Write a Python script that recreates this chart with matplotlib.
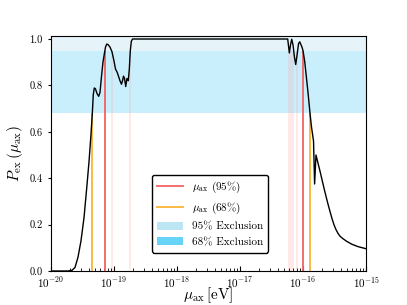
import numpy as np
import matplotlib
matplotlib.use("Agg")
import matplotlib.pyplot as plt
from matplotlib.lines import Line2D
from matplotlib.patches import Patch
from matplotlib.ticker import FixedLocator, NullFormatter

plt.rcParams.update({
    "font.family": "serif",
    "font.serif": ["cmr10", "DejaVu Serif"],
    "mathtext.fontset": "cm",
    "axes.formatter.use_mathtext": True,
    "axes.unicode_minus": False,
})

# log10(mu_ax / eV) and exclusion probability
log_mu = [-20.0, -19.730, -19.667, -19.619, -19.571, -19.524, -19.476, -19.429, -19.397,
          -19.365, -19.344, -19.329, -19.313, -19.294, -19.270, -19.243, -19.222, -19.198,
          -19.175, -19.151, -19.135, -19.116, -19.095, -19.063, -19.032, -19.000, -18.976,
          -18.952, -18.929, -18.905, -18.881, -18.865, -18.849, -18.833, -18.814, -18.794,
          -18.773, -18.757, -18.741, -18.725, -18.706,
          -16.243, -16.217, -16.198, -16.179, -16.159, -16.135, -16.116, -16.095, -16.071,
          -16.052, -16.032, -16.016, -16.000, -15.973, -15.952, -15.921, -15.889, -15.865,
          -15.833, -15.816, -15.794, -15.762, -15.730, -15.698, -15.667, -15.635, -15.603,
          -15.571, -15.540, -15.508, -15.476, -15.444, -15.413, -15.365, -15.302, -15.222,
          -15.127, -15.000]
p_ex = [0.0, 0.0, 0.003, 0.015, 0.06, 0.13, 0.23, 0.37, 0.47,
        0.59, 0.68, 0.76, 0.789, 0.785, 0.765, 0.753, 0.77, 0.84,
        0.90, 0.94, 0.965, 0.978, 0.976, 0.965, 0.945, 0.905, 0.87,
        0.858, 0.84, 0.82, 0.805, 0.82, 0.84, 0.83, 0.795, 0.83,
        0.82, 0.87, 0.95, 0.99, 1.0,
        1.0, 0.94, 0.975, 0.999, 0.975, 0.92, 0.89, 0.93, 0.98,
        0.988, 0.975, 0.965, 0.95, 0.903, 0.85, 0.77, 0.68, 0.62,
        0.56, 0.375, 0.50, 0.465, 0.43, 0.393, 0.357, 0.322, 0.288,
        0.256, 0.226, 0.199, 0.178, 0.162, 0.150, 0.139, 0.127, 0.115,
        0.105, 0.096]

mu95 = [7.2e-20, 1.0e-16]
mu68 = [4.55e-20, 1.29e-16]
mu95_other = [9.4e-20, 1.8e-19, 6.0e-17, 6.45e-17, 7.0e-17, 7.9e-17]
band68 = (0.68, 0.95)
band95 = (0.95, 1.02)
x_decades = [-20, -19, -18, -17, -16, -15]
y_ticks = [0.0, 0.2, 0.4, 0.6, 0.8, 1.0]

fig = plt.figure(figsize=(4.07, 3.05), dpi=100)
ax = fig.add_axes([0.1253, 0.1115, 0.7740, 0.7705])

ax.axhspan(*band95, color="#e6f4fa", zorder=0, lw=0)
ax.axhspan(*band68, color="#c9effd", zorder=0, lw=0)

for m in mu95_other:
    ax.vlines(m, 0, 0.95, color="#ff9999", alpha=0.25, lw=1.2, zorder=1)
for m in mu95:
    ax.vlines(m, 0, 0.95, color="#f26262", lw=1.3, zorder=2)
for m in mu68:
    ax.vlines(m, 0, 0.68, color="#fbb435", lw=1.3, zorder=2)

ax.plot(10 ** np.array(log_mu), p_ex, color="black", lw=1.0, zorder=3)

ax.set_xscale("log")
ax.set_xlim(1e-20, 1e-15)
ax.set_ylim(0, 1.013)
major = [10.0 ** d for d in x_decades]
minor = [k * 10.0 ** d for d in x_decades[:-1] for k in range(2, 10)]
ax.xaxis.set_major_locator(FixedLocator(major))
ax.xaxis.set_minor_locator(FixedLocator(minor))
ax.xaxis.set_minor_formatter(NullFormatter())
ax.set_xticklabels([r"$10^{%d}$" % d for d in x_decades])
ax.set_yticks(y_ticks)
ax.set_yticklabels(["%.1f" % v for v in y_ticks])
ax.tick_params(axis="x", which="both", direction="in", labelsize=8, pad=3)
ax.tick_params(axis="x", which="major", length=3.5)
ax.tick_params(axis="x", which="minor", length=2)
ax.tick_params(axis="y", which="major", direction="out", length=2.5, labelsize=7.5)

ax.set_xlabel(r"$\mu_{\rm ax}\,[{\rm eV}]$", fontsize=11)
ax.xaxis.set_label_coords(0.5, -0.06)
ax.set_ylabel(r"$P_{\rm ex}\,(\mu_{\rm ax})$", fontsize=11, labelpad=3)

handles = [
    Line2D([], [], color="#f26262", lw=1.3),
    Line2D([], [], color="#fbb435", lw=1.3),
    Patch(facecolor="#bde6f5", edgecolor="none"),
    Patch(facecolor="#66d4f8", edgecolor="none"),
]
labels = [r"$\mu_{\rm ax}$ (95%)", r"$\mu_{\rm ax}$ (68%)", "95% Exclusion", "68% Exclusion"]
leg = ax.legend(handles, labels, loc="lower center", bbox_to_anchor=(0.505, 0.055),
                fontsize=8, frameon=True, fancybox=True, framealpha=1,
                handlelength=2.3, borderpad=0.5, labelspacing=0.5)
leg.get_frame().set_edgecolor("black")
leg.get_frame().set_linewidth(1.0)

fig.savefig("out.png", dpi=100)
